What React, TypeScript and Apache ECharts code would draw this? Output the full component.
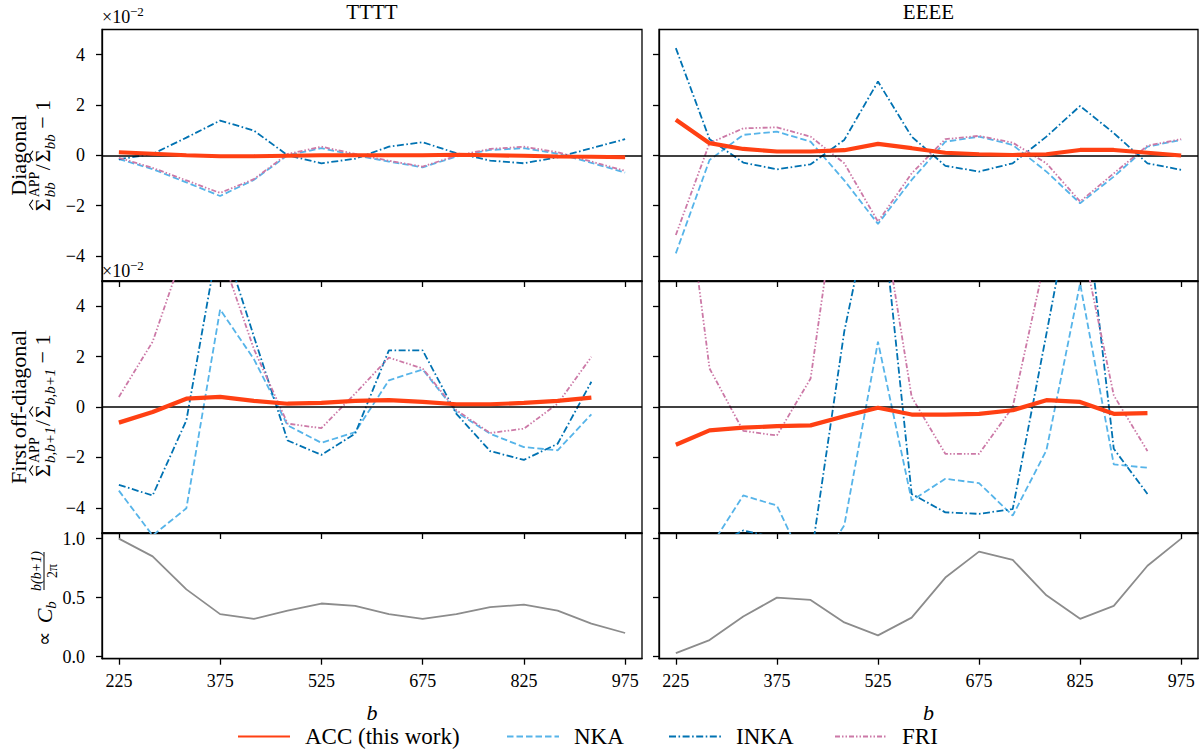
import { useEffect, useRef } from "react";
import * as echarts from "echarts";

// multipole bins
const bDiag = [225, 275, 325, 375, 425, 475, 525, 575, 625, 675, 725, 775, 825, 875, 925, 975];
const bOff = [225, 275, 325, 375, 425, 475, 525, 575, 625, 675, 725, 775, 825, 875, 925];

// TTTT diagonal (x1e-2)
const accTTd = [0.12, 0.06, 0.0, -0.04, -0.04, -0.02, 0.0, 0.0, 0.0, 0.0, 0.02, 0.0, -0.02, -0.05, -0.06, -0.08];
const nkaTTd = [-0.15, -0.55, -1.08, -1.62, -0.98, 0.0, 0.28, 0.0, -0.25, -0.48, -0.05, 0.21, 0.28, 0.06, -0.3, -0.69];
const inkaTTd = [-0.16, 0.05, 0.7, 1.38, 0.98, 0.0, -0.32, -0.14, 0.34, 0.52, 0.08, -0.21, -0.32, -0.08, 0.28, 0.64];
const friTTd = [-0.1, -0.5, -1.0, -1.5, -0.95, 0.05, 0.34, 0.05, -0.22, -0.45, -0.02, 0.25, 0.34, 0.12, -0.25, -0.62];

// EEEE diagonal (x1e-2)
const accEEd = [1.41, 0.48, 0.25, 0.15, 0.15, 0.2, 0.45, 0.28, 0.1, 0.04, 0.01, 0.04, 0.21, 0.21, 0.1, -0.01];
const nkaEEd = [-3.9, -0.19, 0.81, 0.94, 0.54, -1.0, -2.73, -0.98, 0.54, 0.74, 0.41, -0.65, -1.91, -0.85, 0.34, 0.61];
const inkaEEd = [4.26, 0.64, -0.29, -0.56, -0.36, 0.61, 2.93, 0.74, -0.42, -0.65, -0.32, 0.74, 1.96, 0.88, -0.32, -0.58];
const friEEd = [-3.17, 0.48, 1.07, 1.11, 0.74, -0.32, -2.64, -0.72, 0.64, 0.77, 0.5, -0.32, -1.84, -0.72, 0.38, 0.64];

// TTTT first off-diagonal (x1e-2)
const accTTo = [-0.62, -0.2, 0.33, 0.4, 0.24, 0.13, 0.16, 0.24, 0.27, 0.2, 0.11, 0.11, 0.16, 0.24, 0.37];
const nkaTTo = [-3.32, -5.1, -4.02, 3.87, 1.9, -0.73, -1.42, -1.0, 1.06, 1.49, -0.2, -1.06, -1.59, -1.72, -0.29];
const inkaTTo = [-3.09, -3.51, -0.53, 7.0, 2.8, -1.33, -1.9, -1.06, 2.25, 2.25, -0.27, -1.75, -2.1, -1.46, 1.0];
const friTTo = [0.4, 2.59, 6.5, 6.2, 2.3, -0.66, -0.84, 0.53, 1.96, 1.53, -0.13, -1.03, -0.86, 0.13, 1.99];

// EEEE first off-diagonal (x1e-2)
const accEEo = [-1.5, -0.93, -0.82, -0.76, -0.73, -0.37, -0.03, -0.3, -0.3, -0.27, -0.13, 0.27, 0.2, -0.27, -0.24];
const nkaEEo = [-7.7, -5.6, -3.51, -3.91, -6.75, -4.7, 2.59, -3.71, -2.85, -3.02, -4.31, -1.72, 4.9, -2.28, -2.41];
const inkaEEo = [-6.5, -5.6, -4.9, -5.2, -6.1, 3.0, 9.4, -3.45, -4.18, -4.24, -4.05, 2.9, 9.96, -1.66, -3.45];
const friEEo = [12.0, 1.53, -0.95, -1.13, 1.13, 10.5, 8.75, 0.4, -1.86, -1.86, 0.0, 6.1, 6.9, 0.46, -1.75];

// normalised band powers
const cbTT = [1.0, 0.85, 0.57, 0.36, 0.32, 0.39, 0.45, 0.43, 0.36, 0.32, 0.36, 0.42, 0.44, 0.39, 0.28, 0.2];
const cbEE = [0.03, 0.14, 0.34, 0.5, 0.48, 0.29, 0.18, 0.33, 0.67, 0.89, 0.82, 0.52, 0.32, 0.43, 0.77, 1.0];

const xTicks = [225, 375, 525, 675, 825, 975];
const relTicks = [-4, -2, 0, 2, 4];
const cbTicks = [0, 0.5, 1.0];

const SERIF = "Liberation Serif";
const ACC = "#ff4013";
const NKA = "#56b4e9";
const INKA = "#0072b2";
const FRI = "#cc79a7";
const GREY = "#8c8c8c";

const COL_LEFT = [102, 659];
const COL_W = [540, 539];
const ROW_TOP = [29.5, 281, 533];
const ROW_H = [251.5, 252, 125.7];

const pairs = (xs: number[], ys: number[]) => ys.map((v, i) => [xs[i], v]);
const minus = (v: number) => (v < 0 ? `\u2212${-v}` : `${v}`);

const axisLineStyle = { color: "#000", width: 1.3 };

function txt(text: string, x: number, y: number, size: number, opts: any = {}) {
  const align = opts.align || "center";
  return {
    type: "text",
    x,
    y,
    silent: true,
    style: {
      text,
      fontSize: size,
      fontFamily: SERIF,
      fontStyle: opts.italic ? "italic" : "normal",
      fill: "#000",
      align,
      textAlign: align,
      verticalAlign: "middle",
      textVerticalAlign: "middle",
    },
  };
}

// a small circumflex drawn over a capital sigma
function hat(cx: number) {
  return {
    type: "polyline",
    silent: true,
    shape: { points: [[cx - 5, -9], [cx, -12.5], [cx + 5, -9]] },
    style: { stroke: "#000", lineWidth: 1.1, fill: "none" },
  };
}

export default function App() {
  const ref = useRef<HTMLDivElement>(null);

  useEffect(() => {
    if (!ref.current) return;
    const chart = echarts.init(ref.current, undefined, { renderer: "svg" });

    const grids: any[] = [];
    const xAxes: any[] = [];
    const yAxes: any[] = [];
    for (let r = 0; r < 3; r++) {
      for (let c = 0; c < 2; c++) {
        const idx = r * 2 + c;
        grids.push({
          left: COL_LEFT[c],
          top: ROW_TOP[r],
          width: COL_W[c],
          height: ROW_H[r],
          show: true,
          borderColor: "#000",
          borderWidth: 1.3,
          backgroundColor: "transparent",
        });
        xAxes.push({
          type: "value",
          gridIndex: idx,
          min: 200,
          max: 1000,
          axisLine: { show: true, onZero: false, lineStyle: axisLineStyle },
          axisTick: { show: true, customValues: xTicks, length: 6, lineStyle: axisLineStyle },
          axisLabel: {
            show: r === 2,
            customValues: xTicks,
            margin: 13,
            color: "#000",
            fontSize: 18,
            fontFamily: SERIF,
            formatter: (v: number) => `${v}`,
          },
          splitLine: { show: false },
        });
        const ticks = r === 2 ? cbTicks : relTicks;
        yAxes.push({
          type: "value",
          gridIndex: idx,
          min: r === 2 ? -0.018 : -5,
          max: r === 2 ? 1.048 : 5,
          axisLine: { show: true, onZero: false, lineStyle: axisLineStyle },
          axisTick: { show: true, customValues: ticks, length: 6, lineStyle: axisLineStyle },
          axisLabel: {
            show: c === 0,
            customValues: ticks,
            margin: 17,
            color: "#000",
            fontSize: 18,
            fontFamily: SERIF,
            formatter: (v: number) => (r === 2 ? v.toFixed(1) : minus(v)),
          },
          splitLine: { show: false },
        });
      }
    }

    const line = (name: string, xs: number[], ys: number[], idx: number, color: string, width: number, dash: any, z: number) => ({
      type: "line",
      name,
      xAxisIndex: idx,
      yAxisIndex: idx,
      data: pairs(xs, ys),
      symbol: "none",
      clip: true,
      silent: true,
      z,
      emphasis: { disabled: true },
      lineStyle: { color, width, type: dash },
      itemStyle: { color },
    });

    const zeroLine = {
      silent: true,
      symbol: ["none", "none"],
      label: { show: false },
      lineStyle: { color: "#000", width: 1.6, type: "solid" },
      emphasis: { disabled: true },
      data: [{ yAxis: 0 }],
    };

    const DASH = [6.5, 3];
    const DASHDOT = [7, 2.5, 1.6, 2.5];
    const DASHDOTDOT = [5, 2, 1.5, 2, 1.5, 2];

    const panels = [
      { idx: 0, xs: bDiag, acc: accTTd, nka: nkaTTd, inka: inkaTTd, fri: friTTd },
      { idx: 1, xs: bDiag, acc: accEEd, nka: nkaEEd, inka: inkaEEd, fri: friEEd },
      { idx: 2, xs: bOff, acc: accTTo, nka: nkaTTo, inka: inkaTTo, fri: friTTo },
      { idx: 3, xs: bOff, acc: accEEo, nka: nkaEEo, inka: inkaEEo, fri: friEEo },
    ];

    const series: any[] = [];
    panels.forEach((p) => {
      series.push({ ...line("NKA", p.xs, p.nka, p.idx, NKA, 1.8, DASH, 2), markLine: zeroLine });
      series.push(line("INKA", p.xs, p.inka, p.idx, INKA, 1.8, DASHDOT, 3));
      series.push(line("FRI", p.xs, p.fri, p.idx, FRI, 1.8, DASHDOTDOT, 3));
      series.push(line("ACC (this work)", p.xs, p.acc, p.idx, ACC, 4.2, "solid", 5));
    });
    series.push(line("Cb TT", bDiag, cbTT, 4, GREY, 1.8, "solid", 3));
    series.push(line("Cb EE", bDiag, cbEE, 5, GREY, 1.8, "solid", 3));

    const legendItem = (name: string, left: number) => ({
      data: [name],
      left,
      top: 725,
      padding: 0,
      itemWidth: 52,
      itemHeight: 14,
      selectedMode: false,
      itemStyle: { opacity: 0 },
      textStyle: { color: "#000", fontSize: 23, fontFamily: SERIF, padding: [0, 0, 0, 10] },
    });

    const colCenter = [COL_LEFT[0] + COL_W[0] / 2, COL_LEFT[1] + COL_W[1] / 2];

    // second lines of the y labels, laid out from their left end
    const diagMath = [
      txt("\u03a3", 0, 0, 22, { align: "left" }),
      hat(6.5),
      txt("APP", 14, -8, 14, { align: "left" }),
      txt("bb", 14, 8, 15, { align: "left", italic: true }),
      txt("/", 41, 0, 22, { align: "left" }),
      txt("\u03a3", 49, 0, 22, { align: "left" }),
      hat(55.5),
      txt("bb", 62, 8, 15, { align: "left", italic: true }),
      txt(" \u2212 1", 77, 0, 22, { align: "left" }),
    ];
    const offMath = [
      txt("\u03a3", 0, 0, 22, { align: "left" }),
      hat(6.5),
      txt("APP", 14, -8, 14, { align: "left" }),
      txt("b,b+1", 14, 8, 15, { align: "left", italic: true }),
      txt("/", 51, 0, 22, { align: "left" }),
      txt("\u03a3", 59, 0, 22, { align: "left" }),
      hat(65.5),
      txt("b,b+1", 72, 8, 15, { align: "left", italic: true }),
      txt(" \u2212 1", 108, 0, 22, { align: "left" }),
    ];

    const graphic: any[] = [
      txt("TTTT", colCenter[0], 12, 21),
      txt("EEEE", colCenter[1], 12, 21),
      txt("b", colCenter[0], 712, 22, { italic: true }),
      txt("b", colCenter[1], 712, 22, { italic: true }),
      txt("\u00d710", 102, 17, 18, { align: "left" }),
      txt("\u22122", 130, 11, 13, { align: "left" }),
      txt("\u00d710", 102, 271, 18, { align: "left" }),
      txt("\u22122", 130, 265, 13, { align: "left" }),
      {
        type: "group",
        x: 30,
        y: 155.3,
        rotation: Math.PI / 2,
        silent: true,
        children: [
          txt("Diagonal", 0, -12, 22),
          { type: "group", x: -56, y: 12, children: diagMath },
        ],
      },
      {
        type: "group",
        x: 30,
        y: 407,
        rotation: Math.PI / 2,
        silent: true,
        children: [
          txt("First off-diagonal", 0, -12, 22),
          { type: "group", x: -70, y: 12, children: offMath },
        ],
      },
      {
        type: "group",
        x: 44,
        y: 597,
        rotation: Math.PI / 2,
        silent: true,
        children: [
          txt("\u221d", -42, 0, 20),
          txt("C", -19, 0, 22, { italic: true }),
          txt("b", -8, 7, 15, { italic: true }),
          txt("b(b+1)", 26, -8, 14, { italic: true }),
          {
            type: "line",
            silent: true,
            shape: { x1: 7, y1: 0, x2: 45, y2: 0 },
            style: { stroke: "#000", lineWidth: 1 },
          },
          txt("2\u03c0", 26, 8, 14),
        ],
      },
    ];

    chart.setOption({
      animation: false,
      backgroundColor: "#fff",
      textStyle: { fontFamily: SERIF },
      grid: grids,
      xAxis: xAxes,
      yAxis: yAxes,
      series,
      legend: [
        legendItem("ACC (this work)", 237),
        legendItem("NKA", 506),
        legendItem("INKA", 668),
        legendItem("FRI", 834),
      ],
      graphic,
    });

    return () => chart.dispose();
  }, []);

  return <div ref={ref} style={{ position: "absolute", left: 0, top: 0, width: 1200, height: 751 }} />;
}
